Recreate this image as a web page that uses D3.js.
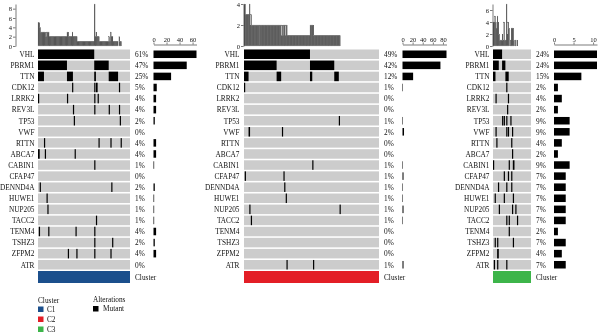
<!DOCTYPE html>
<html><head><meta charset="utf-8">
<script src="https://cdn.jsdelivr.net/npm/d3@7"></script>
<style>
body{margin:0;background:#fff;}
#chart{will-change:transform;}
svg text{font-family:"Liberation Serif","Times New Roman",serif;fill:#111;}
</style></head><body>
<svg id="chart" width="600" height="334"></svg>
<script>
// ---------------- data ----------------
const genes = ["VHL","PBRM1","TTN","CDK12","LRRK2","REV3L","TP53","VWF","RTTN","ABCA7",
  "CABIN1","CFAP47","DENND4A","HUWE1","NUP205","TACC2","TENM4","TSHZ3","ZFPM2","ATR"];
const clusters = ["C1","C2","C3"];
const clusterColors = ["#1b4f8c","#e31e26","#3db54a"];
const sampleCounts = [108, 178, 46];
// mutated sample indices per gene ([a,b] = inclusive run), samples in oncoplot order
const c1Mutated = [
  [[0,65]], [[0,33],[66,82]], [[0,6],[34,40],[66,67],[83,93]], [40,66,68,69,95], [0,34,66,70],
  [41,66,83,95], [42,96], [], [7,71,85,97], [0,1,8,43],
  [66], [], [2,86], [10], [11], [68], [1,12,44,66], [66,87], [35,45,66,85], []
];
const c2Mutated = [
  [[0,86]], [[0,42],[87,118]], [[0,5],[43,48],[87,89],[119,124]], [0], [],
  [], [125], [6,7,50], [], [],
  [90], [1,52], [53], [55], [7,126], [9], [], [], [], [56,91]
];
const c3Mutated = [
  [[0,10]], [[0,6],[11,14]], [[0,2],[15,18]], [16], [3,18],
  [17], [11,13,16,21], [3,16,18,23], [4,22], [23],
  [0,19,24,25], [13,18,22], [6,16,22], [2,13,24], [7,23,27], [16,19,29], [19], [2,5,24], [5,6], [1,5,16]
];
const mutatedByCluster = [c1Mutated, c2Mutated, c3Mutated];
const topTicks = [[0,2,4,6,8],[0,2,4],[0,2,4,6]];
const freqTicks = [[0,20,40,60],[0,20,40,60,80],[0,5,10]];
const legendAlteration = "Mutant";

// ---------------- layout ----------------
const FS = 7.3, AFS = 6.5;
const layout = [
  {gx0:38,  gx1:130, labelX:34.5,  axisX:15.5,  pctX:135, barX0:153.5, barW:43},
  {gx0:244, gx1:379, labelX:239.5, axisX:243.5, pctX:384, barX0:402.5, barW:44},
  {gx0:493, gx1:531, labelX:489.5, axisX:492.5, pctX:536, barX0:554,   barW:43}
];
const svg = d3.select("#chart");
const y = d3.scaleBand().domain(genes).range([49.5, 269.5]).paddingInner(0.14);
const clusterBarY = 271, clusterBarH = 12;
const topY0 = 46, topY1 = 4;

function expand(list){
  const s = new Set();
  list.forEach(d => { if (Array.isArray(d)) { for (let i=d[0]; i<=d[1]; i++) s.add(i); } else s.add(d); });
  return s;
}
function runs(set){
  const a = Array.from(set).sort((p,q)=>p-q), out = [];
  a.forEach(v => { const r = out[out.length-1]; if (r && v === r[1]+1) r[1] = v; else out.push([v,v]); });
  return out;
}

clusters.forEach((cl, ci) => {
  const L = layout[ci];
  const n = sampleCounts[ci];
  const sets = mutatedByCluster[ci].map(expand);
  const g = svg.append("g");
  const x = d3.scaleBand().domain(d3.range(n)).range([L.gx0, L.gx1]);
  const bw = x.bandwidth();

  // row backgrounds
  g.selectAll(".bg").data(genes).join("rect")
    .attr("x", L.gx0).attr("y", d => y(d)).attr("width", L.gx1 - L.gx0).attr("height", y.bandwidth())
    .attr("fill", "#cccccc");

  // mutation cells (merged runs of adjacent samples)
  genes.forEach((gene, gi) => {
    g.selectAll(null).data(runs(sets[gi])).join("rect")
      .attr("x", r => x(r[0])).attr("y", y(gene))
      .attr("width", r => Math.max(x(r[1]) + bw - x(r[0]), 1.2)).attr("height", y.bandwidth())
      .attr("fill", "#000");
  });

  // gene labels
  g.selectAll(".gl").data(genes).join("text")
    .attr("x", L.labelX).attr("y", d => y(d) + y.bandwidth()/2 + 0.3)
    .attr("text-anchor", "end").attr("dominant-baseline", "central")
    .attr("font-size", FS).text(d => d);

  // percentages
  const counts = sets.map(s => s.size);
  g.selectAll(".pct").data(genes).join("text")
    .attr("x", L.pctX).attr("y", d => y(d) + y.bandwidth()/2 + 0.3)
    .attr("dominant-baseline", "central").attr("font-size", FS)
    .text((d, i) => Math.round(counts[i] / n * 100) + "%");

  // right frequency bars
  const maxC = d3.max(counts);
  const xf = d3.scaleLinear().domain([0, maxC]).range([L.barX0, L.barX0 + L.barW]);
  g.selectAll(".fb").data(genes).join("rect")
    .attr("x", xf(0)).attr("y", d => y(d) + 1)
    .attr("width", (d, i) => Math.max(0, xf(counts[i]) - xf(0)))
    .attr("height", y.bandwidth() - 2).attr("fill", "#000");
  const fa = g.append("g").attr("transform", "translate(0,44.5)")
    .call(d3.axisTop(xf).tickValues(freqTicks[ci]).tickFormat(d3.format("d")).tickSize(2).tickPadding(1).tickSizeOuter(0));
  fa.selectAll("text").attr("font-size", AFS).attr("font-family", "Liberation Serif").attr("fill", "#111");
  fa.selectAll("path,line").attr("stroke", "#222").attr("stroke-width", 0.6);

  // top bars (count of mutated genes per sample)
  const perSample = d3.range(n).map(i => sets.reduce((a, s) => a + (s.has(i) ? 1 : 0), 0));
  const yt = d3.scaleLinear().domain([0, d3.max(perSample)]).range([topY0, topY1]);
  g.selectAll(".tb").data(perSample.map((v, i) => ({v, i})).filter(d => d.v > 0)).join("rect")
    .attr("x", d => x(d.i)).attr("y", d => yt(d.v)).attr("width", bw)
    .attr("height", d => yt(0) - yt(d.v))
    .attr("fill", "#333").attr("stroke", "#777").attr("stroke-width", 0.15);
  const ta = g.append("g").attr("transform", `translate(${L.axisX},0)`)
    .call(d3.axisLeft(yt).tickValues(topTicks[ci]).tickFormat(d3.format("d")).tickSize(2.5).tickPadding(1).tickSizeOuter(0));
  ta.selectAll("text").attr("font-size", AFS).attr("font-family", "Liberation Serif").attr("fill", "#111");
  ta.selectAll("path,line").attr("stroke", "#222").attr("stroke-width", 0.6);

  // cluster bar
  g.append("rect").attr("x", L.gx0).attr("y", clusterBarY).attr("width", L.gx1 - L.gx0)
    .attr("height", clusterBarH).attr("fill", clusterColors[ci]);
  g.append("text").attr("x", L.pctX).attr("y", clusterBarY + clusterBarH/2)
    .attr("dominant-baseline", "central").attr("font-size", FS).text("Cluster");
});

// ---------------- legend ----------------
const lg = svg.append("g");
lg.append("text").attr("x", 38).attr("y", 300).attr("dominant-baseline", "central").attr("font-size", FS).text("Cluster");
clusters.forEach((c, i) => {
  lg.append("rect").attr("x", 38).attr("y", 306.5 + i * 10).attr("width", 5.5).attr("height", 5.5).attr("fill", clusterColors[i]);
  lg.append("text").attr("x", 47).attr("y", 309.3 + i * 10).attr("dominant-baseline", "central").attr("font-size", FS).text(c);
});
lg.append("text").attr("x", 93).attr("y", 299.5).attr("dominant-baseline", "central").attr("font-size", FS).text("Alterations");
lg.append("rect").attr("x", 93).attr("y", 306).attr("width", 5.5).attr("height", 5.5).attr("fill", "#000");
lg.append("text").attr("x", 103).attr("y", 308.8).attr("dominant-baseline", "central").attr("font-size", FS).text(legendAlteration);
</script>
</body></html>
